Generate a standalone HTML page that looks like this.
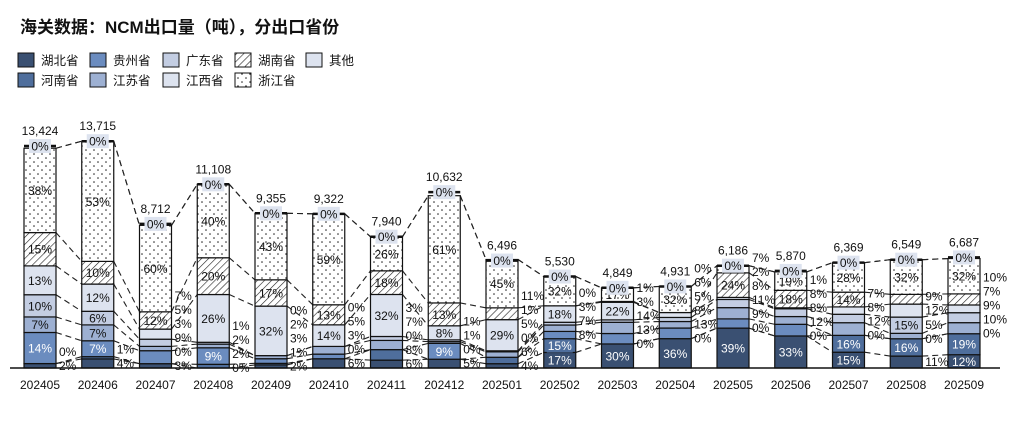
<!DOCTYPE html>
<html><head><meta charset="utf-8">
<style>
body{margin:0;background:#fff;width:1011px;height:416px;overflow:hidden;font-family:"Liberation Sans","Noto Sans CJK SC",sans-serif;}
svg text{font-family:"Liberation Sans","Noto Sans CJK SC",sans-serif;}
</style></head>
<body>
<svg id="chart" width="1011" height="416" viewBox="0 0 1011 416" xmlns="http://www.w3.org/2000/svg">
<defs>
<pattern id="hatch" patternUnits="userSpaceOnUse" width="5" height="5" patternTransform="rotate(45)">
<rect width="5" height="5" fill="#fff"/><line x1="0" y1="0" x2="0" y2="5" stroke="#222" stroke-width="1.2"/></pattern>
<pattern id="dots" patternUnits="userSpaceOnUse" width="8" height="8">
<rect width="8" height="8" fill="#fff"/><circle cx="2" cy="2" r="0.8" fill="#222"/><circle cx="6" cy="6" r="0.8" fill="#222"/></pattern>
</defs>
<text x="20" y="33" font-size="17" font-weight="bold" fill="#111">海关数据：NCM出口量（吨），分出口省份</text>
<g id="legend"></g>
<g id="plot"></g>
</svg>
<script>
const categories=["202405","202406","202407","202408","202409","202410","202411","202412","202501","202502","202503","202504","202505","202506","202507","202508","202509"];
const totals=[13424,13715,8712,11108,9355,9322,7940,10632,6496,5530,4849,4931,6186,5870,6369,6549,6687];
const seriesNames=["湖北省","河南省","贵州省","江苏省","广东省","江西省","湖南省","浙江省","其他"];
const hubei=[2,4,3,0,2,6,6,5,4,17,30,36,39,33,15,11,12];
const henan=[0,1,0,2,1,0,8,0,6,15,0,0,0,0,16,16,19];
const guizhou=[14,7,9,9,3,3,0,9,0,8,13,13,9,12,0,0,0];
const jiangsu=[7,7,3,2,2,5,7,1,5,7,14,8,11,8,12,5,10];
const guangdong=[10,6,5,1,0,0,3,1,1,3,3,5,8,8,8,15,9];
const jiangxi=[13,12,7,26,32,14,32,8,29,18,22,6,2,1,7,12,7];
const hunan=[15,10,12,20,17,13,18,13,11,0,1,0,24,18,14,9,10];
const zhejiang=[38,53,60,40,43,59,26,61,45,32,17,32,7,19,28,32,32];
const others=[0,0,0,0,0,0,0,0,0,0,0,0,0,0,0,0,0];
const series=[hubei,henan,guizhou,jiangsu,guangdong,jiangxi,hunan,zhejiang,others];
const fills=["#3a5072","#4f6e9c","#6b8cbf","#9db0d2","#c3cde2","#dde3ef","url(#hatch)","url(#dots)","#dde3ef"];
const textCol=["#fff","#fff","#fff","#111","#111","#111","#111","#111","#111"];
const NS="http://www.w3.org/2000/svg";
const baseY=368, x0=40, step=57.75, bw=32, maxV=13424, maxH=222, FS=12;
function xScale(i){return x0+i*step;}
function mk(tag,attrs,parent){const e=document.createElementNS(NS,tag);for(const k in attrs)e.setAttribute(k,attrs[k]);parent.appendChild(e);return e;}
const plot=document.getElementById('plot');
const legend=document.getElementById('legend');
const legOrder=[[0,2,4,6,8],[1,3,5,7]];
const legX=[18,90,163,235,306];
legOrder.forEach((row,r)=>row.forEach((s,c)=>{
 const g=mk('g',{},legend);
 
 
 const y=53+r*20;
 mk('rect',{x:legX[c],y:y,width:16,height:14,fill:fills[s],stroke:'#111','stroke-width':1},g);
 const t=mk('text',{x:legX[c]+23,y:y+12,'font-size':12.5,fill:'#111'},g);t.textContent=seriesNames[s];
}));
const tops=categories.map((c,i)=>{let acc=0;const arr=[];series.forEach(sr=>{acc+=sr[i];arr.push(acc);});return arr;});
function segY(i,pct){return baseY-(pct/100)*(totals[i]/maxV*maxH);}
for(let i=0;i<categories.length-1;i++){
 for(let s=0;s<series.length;s++){
  const l=mk('line',{x1:xScale(i)+bw/2,y1:segY(i,tops[i][s]),x2:xScale(i+1)-bw/2,y2:segY(i+1,tops[i+1][s]),stroke:'#222','stroke-width':1.1,'stroke-dasharray':'6,4'},plot);
  
  
 }
}
categories.forEach((cat,i)=>{
 const cx=xScale(i);let prev=0;
 const outside=[];
 series.forEach((sr,s)=>{
  const v=sr[i];const y1=segY(i,prev),y2=segY(i,prev+v);prev+=v;
  const r=mk('rect',{x:cx-bw/2,y:y2,width:bw,height:Math.max(0,y1-y2),fill:fills[s],stroke:'#111','stroke-width':1.2},plot);
  
  
  if(s===8)return;
  if(y1-y2>=13){
   if(s<3) mk('rect',{x:cx-13,y:(y1+y2)/2-7,width:26,height:14,fill:fills[s]},plot);
   const t=mk('text',{x:cx,y:(y1+y2)/2+4.5,'font-size':FS,'text-anchor':'middle',fill:textCol[s]},plot);t.textContent=v+'%';
   
   
  } else outside.push({v:v,y:(y1+y2)/2});
 });
 let lastY=baseY+4+14;
 outside.forEach(o=>{
  let y=Math.min(o.y+4,lastY-14);lastY=y;
  const t=mk('text',{x:cx+bw/2+3,y:y,'font-size':FS,fill:'#111'},plot);t.textContent=o.v+'%';
  
  
 });
 const ty=segY(i,100);
 mk('line',{x1:cx-bw/2,y1:ty,x2:cx+bw/2,y2:ty,stroke:'#111','stroke-width':2.5},plot);
 mk('rect',{x:cx-11,y:ty-7,width:22,height:14,fill:'#dde3ef'},plot);
 const ot=mk('text',{x:cx,y:ty+4.5,'font-size':FS,'text-anchor':'middle',fill:'#111'},plot);ot.textContent=others[i]+'%';
 
 
 const tt=mk('text',{x:cx,y:ty-11,'font-size':FS,'text-anchor':'middle',fill:'#111'},plot);tt.textContent=totals[i].toLocaleString('en-US');
 
 
 const xl=mk('text',{x:cx,y:389,'font-size':FS,'text-anchor':'middle',fill:'#111'},plot);xl.textContent=cat;
 
 
});
const ax=mk('line',{x1:10,y1:baseY,x2:1000,y2:baseY,stroke:'#111','stroke-width':1.5},plot);


</script>
</body></html>
